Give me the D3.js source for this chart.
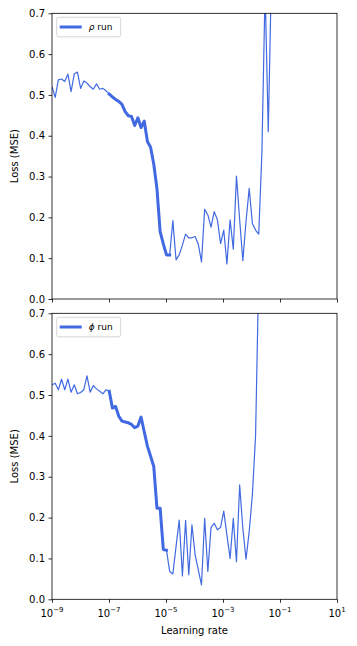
<!DOCTYPE html>
<html>
<head>
<meta charset="utf-8">
<script src="https://cdn.jsdelivr.net/npm/d3@7"></script>
<style>
  body { margin: 0; background: #fff; }
  text { font-family: "DejaVu Sans", sans-serif; fill: #000; }
</style>
</head>
<body>
<div id="chart"></div>
<script>
// learning rate grid: first lr and log10 step between points
const LR_START_EXP = -9;
const LR_STEP_EXP = 0.1116;

// loss for the rho run, one value per lr step
const lossRho = [0.520, 0.494, 0.537, 0.539, 0.533, 0.551, 0.508, 0.551, 0.556, 0.516,
  0.534, 0.529, 0.520, 0.514, 0.527, 0.514, 0.516, 0.510, 0.502, 0.495,
  0.489, 0.484, 0.477, 0.459, 0.449, 0.447, 0.425, 0.444, 0.420, 0.436,
  0.386, 0.372, 0.330, 0.270, 0.165, 0.135, 0.108, 0.108, 0.192, 0.096,
  0.108, 0.132, 0.159, 0.150, 0.150, 0.153, 0.134, 0.091, 0.220, 0.206,
  0.176, 0.214, 0.194, 0.136, 0.169, 0.086, 0.194, 0.122, 0.301, 0.194,
  0.094, 0.190, 0.271, 0.185, 0.169, 0.159, 0.360, 0.760, 0.410, 0.800];

// loss for the phi run
const lossPhi = [0.525, 0.529, 0.513, 0.539, 0.513, 0.539, 0.507, 0.525, 0.503, 0.506,
  0.513, 0.547, 0.507, 0.523, 0.515, 0.509, 0.503, 0.513, 0.509, 0.468,
  0.472, 0.448, 0.436, 0.434, 0.432, 0.428, 0.420, 0.424, 0.446, 0.410,
  0.375, 0.350, 0.325, 0.223, 0.223, 0.122, 0.120, 0.068, 0.062, 0.129,
  0.194, 0.057, 0.193, 0.060, 0.182, 0.109, 0.072, 0.035, 0.198, 0.068,
  0.176, 0.186, 0.170, 0.176, 0.216, 0.157, 0.100, 0.198, 0.092, 0.280,
  0.174, 0.098, 0.166, 0.256, 0.400, 0.800];

// index range drawn with the thick line (steepest descent)
const thickRho = [18, 37];
const thickPhi = [18, 36];

const X_TICKS = [1e-9, 1e-7, 1e-5, 1e-3, 1e-1, 1e1];
const Y_TICKS = [0, 0.1, 0.2, 0.3, 0.4, 0.5, 0.6, 0.7];

const W = 357, H = 646;
const margin = { left: 52, right: 20 };
const panels = [
  { top: 13.3, bottom: 299, loss: lossRho, thick: thickRho, sym: "ρ" },
  { top: 313.3, bottom: 599.3, loss: lossPhi, thick: thickPhi, sym: "ϕ" }
];
const color = "#4169e1";

const svg = d3.select("#chart").append("svg")
  .attr("width", W)
  .attr("height", H);

const x = d3.scaleLog()
  .domain([1e-9, 1e1])
  .range([margin.left, W - margin.right]);

const supers = { "-9": "−9", "-7": "−7", "-5": "−5", "-3": "−3", "-1": "−1", "1": "1" };

panels.forEach((p, k) => {
  const y = d3.scaleLinear()
    .domain([0, 0.7])
    .range([p.bottom, p.top]);

  const data = p.loss.map((v, i) => ({ lr: Math.pow(10, LR_START_EXP + i * LR_STEP_EXP), v: v }));

  const clipId = "clip" + k;
  svg.append("clipPath").attr("id", clipId)
    .append("rect")
    .attr("x", margin.left).attr("y", p.top)
    .attr("width", W - margin.right - margin.left)
    .attr("height", p.bottom - p.top);

  const line = d3.line()
    .x(d => x(d.lr))
    .y(d => y(d.v));

  const g = svg.append("g").attr("clip-path", `url(#${clipId})`);

  // whole run, thin
  g.append("path")
    .datum(data)
    .attr("d", line)
    .attr("fill", "none")
    .attr("stroke", color)
    .attr("stroke-width", 1.2)
    .attr("stroke-linejoin", "round");

  // steep part, thick
  g.append("path")
    .datum(data.slice(p.thick[0], p.thick[1] + 1))
    .attr("d", line)
    .attr("fill", "none")
    .attr("stroke", color)
    .attr("stroke-width", 3)
    .attr("stroke-linejoin", "round")
    .attr("stroke-linecap", "square");

  // y axis
  const yAxis = svg.append("g")
    .attr("transform", `translate(${margin.left},0)`)
    .call(d3.axisLeft(y).tickValues(Y_TICKS).tickFormat(d3.format(".1f")).tickSize(3.5).tickPadding(3.5));
  yAxis.select(".domain").remove();
  yAxis.selectAll("text").attr("font-size", 10).attr("font-family", "DejaVu Sans");
  yAxis.selectAll("line").attr("stroke-width", 0.8);

  // x axis
  const xAxis = svg.append("g")
    .attr("transform", `translate(0,${p.bottom})`)
    .call(d3.axisBottom(x).tickValues(X_TICKS).tickFormat("").tickSize(3.5));
  xAxis.select(".domain").remove();
  xAxis.selectAll("line").attr("stroke-width", 0.8);

  if (k === 1) {
    X_TICKS.forEach(t => {
      const e = Math.round(Math.log10(t));
      const lbl = svg.append("text")
        .attr("x", x(t))
        .attr("y", p.bottom + 17.5)
        .attr("text-anchor", "middle")
        .attr("font-size", 10);
      lbl.append("tspan").text("10");
      lbl.append("tspan")
        .attr("dy", -4.5)
        .attr("font-size", 7)
        .text(supers[String(e)]);
    });
    svg.append("text")
      .attr("x", (margin.left + W - margin.right) / 2)
      .attr("y", p.bottom + 35)
      .attr("text-anchor", "middle")
      .attr("font-size", 10)
      .text("Learning rate");
  }

  // frame
  svg.append("rect")
    .attr("x", margin.left).attr("y", p.top)
    .attr("width", W - margin.right - margin.left)
    .attr("height", p.bottom - p.top)
    .attr("fill", "none")
    .attr("stroke", "#000")
    .attr("stroke-width", 0.8);

  // y label
  svg.append("text")
    .attr("transform", `translate(18,${(p.top + p.bottom) / 2}) rotate(-90)`)
    .attr("text-anchor", "middle")
    .attr("font-size", 10)
    .text("Loss (MSE)");

  // legend
  const lg = svg.append("g").attr("transform", `translate(${margin.left + 4.7},${p.top + 4})`);
  lg.append("rect")
    .attr("width", 64).attr("height", 19.5)
    .attr("rx", 2)
    .attr("fill", "#fff").attr("fill-opacity", 0.8)
    .attr("stroke", "#ccc").attr("stroke-width", 0.8);
  lg.append("line")
    .attr("x1", 3).attr("x2", 25)
    .attr("y1", 9.7).attr("y2", 9.7)
    .attr("stroke", color).attr("stroke-width", 3);
  const lt = lg.append("text")
    .attr("x", 32).attr("y", 13)
    .attr("font-size", 9);
  lt.append("tspan").attr("font-style", "italic").text(p.sym);
  lt.append("tspan").text(" run");
});
</script>
</body>
</html>
